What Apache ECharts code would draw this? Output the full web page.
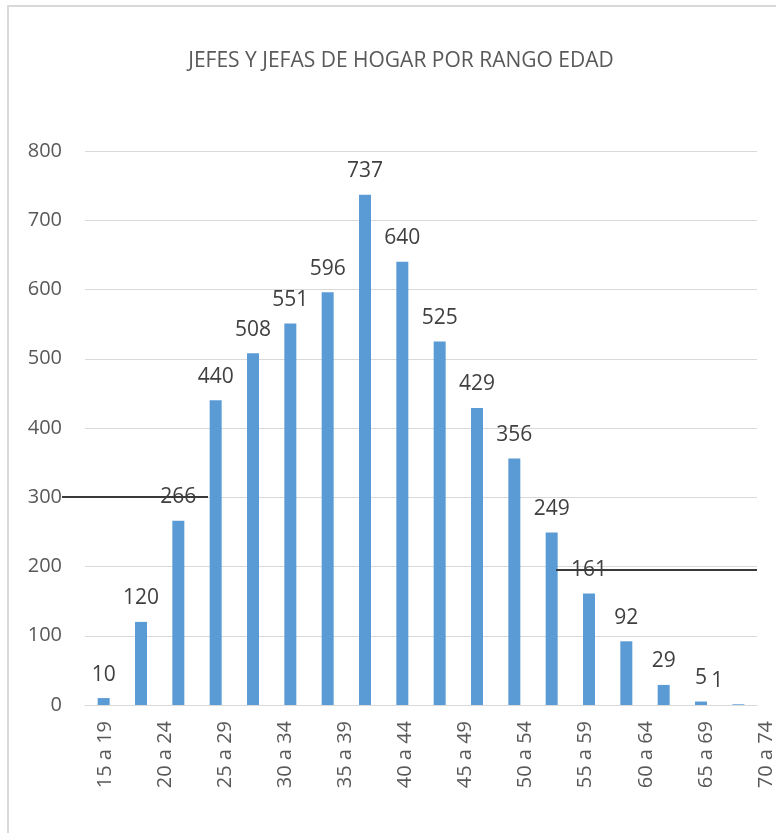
<!DOCTYPE html>
<html>
<head>
<meta charset="utf-8">
<script src="https://cdn.jsdelivr.net/npm/echarts@6/dist/echarts.min.js"></script>
<style>
  html, body { margin: 0; padding: 0; background: #fff; }
  #main { width: 776px; height: 833px; }
</style>
</head>
<body>
<div id="main"></div>
<script>
// bar values, one per bar (the last one is the stray "1")
var barKeys = ["b1", "b2", "b3", "b4", "b5", "b6", "b7", "b8", "b9", "b10",
  "b11", "b12", "b13", "b14", "b15", "b16", "b17", "b18"];
var barValues = [10, 120, 266, 440, 508, 551, 596, 737, 640, 525,
  429, 356, 249, 161, 92, 29, 5, 1];

// age-range labels printed under the axis
var ageLabels = ["15 a 19", "20 a 24", "25 a 29", "30 a 34", "35 a 39", "40 a 44",
  "45 a 49", "50 a 54", "55 a 59", "60 a 64", "65 a 69", "70 a 74"];

var yTicks = { min: 0, max: 800, interval: 100 };

var font = "'Open Sans', sans-serif";

var chart = echarts.init(document.getElementById("main"));

var seriesData = barValues.map(function (v, i) {
  if (i === barValues.length - 1) {
    return { value: v, label: { offset: [-21, 0] } };
  }
  return v;
});

var option = {
  animation: false,
  title: {
    text: "JEFES Y JEFAS DE HOGAR POR RANGO EDAD",
    left: 396,
    textAlign: "center",
    top: 46,
    textStyle: { fontFamily: font, fontSize: 21, fontWeight: "normal", color: "#595959" }
  },
  grid: [
    { left: 85, right: 19, top: 151, bottom: 128 },
    { left: 105, right: 3, top: 151, bottom: 128 }
  ],
  xAxis: [
    {
      type: "category",
      gridIndex: 0,
      data: barKeys,
      axisLine: { lineStyle: { color: "#d9d9d9", width: 1 } },
      axisTick: { show: false },
      axisLabel: { show: false }
    },
    {
      type: "category",
      gridIndex: 1,
      data: ageLabels,
      boundaryGap: false,
      axisLine: { show: false },
      axisTick: { show: false },
      axisLabel: {
        rotate: 90,
        margin: 16,
        interval: 0,
        fontFamily: font,
        fontSize: 20,
        color: "#595959"
      }
    }
  ],
  yAxis: [
    {
      type: "value",
      gridIndex: 0,
      min: yTicks.min,
      max: yTicks.max,
      interval: yTicks.interval,
      axisLine: { show: false },
      axisTick: { show: false },
      splitLine: { lineStyle: { color: "#d9d9d9", width: 1 } },
      axisLabel: { margin: 23, fontFamily: font, fontSize: 20, color: "#595959" }
    },
    {
      type: "value",
      gridIndex: 1,
      min: yTicks.min,
      max: yTicks.max,
      show: false
    }
  ],
  series: [
    {
      type: "bar",
      xAxisIndex: 0,
      yAxisIndex: 0,
      data: seriesData,
      barWidth: 12,
      itemStyle: { color: "#5b9bd5" },
      label: {
        show: true,
        position: "top",
        distance: 13,
        fontFamily: font,
        fontSize: 21,
        color: "#404040"
      }
    }
  ],
  graphic: [
    {
      type: "polyline",
      silent: true,
      z: -1,
      shape: { points: [[8, 900], [8, 6], [800, 6]] },
      style: { stroke: "#d9d9d9", lineWidth: 2, fill: null }
    },
    {
      type: "line",
      z: 100,
      shape: { x1: 62, y1: 497, x2: 208, y2: 497 },
      style: { stroke: "#3a3a3a", lineWidth: 2 }
    },
    {
      type: "line",
      z: 100,
      shape: { x1: 556, y1: 570, x2: 757, y2: 570 },
      style: { stroke: "#3a3a3a", lineWidth: 2 }
    }
  ]
};

chart.setOption(option);
</script>
</body>
</html>
